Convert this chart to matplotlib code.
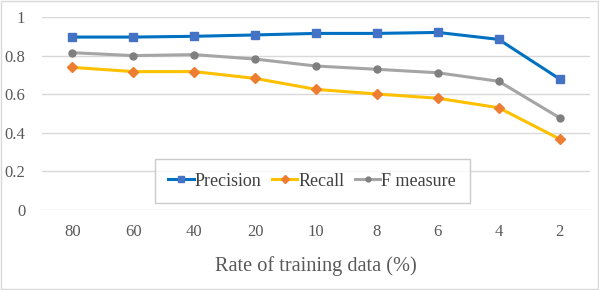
import numpy as np
import matplotlib.pyplot as plt

plt.rcParams['font.family'] = ['Liberation Serif', 'DejaVu Serif']

# Data
rates = ['80', '60', '40', '20', '10', '8', '6', '4', '2']
precision = [0.896, 0.896, 0.900, 0.907, 0.915, 0.915, 0.920, 0.884, 0.679]
recall = [0.739, 0.717, 0.717, 0.682, 0.625, 0.601, 0.579, 0.530, 0.368]
f_measure = [0.815, 0.800, 0.805, 0.782, 0.746, 0.729, 0.711, 0.667, 0.478]

fig = plt.figure(figsize=(5.99, 2.90), dpi=100)
ax = fig.add_axes([42/599, 80/290, 548/599, 193/290])

x = np.arange(len(rates))
ax.plot(x, precision, color='#0070C0', lw=2.2, marker='s', ms=6,
        mfc='#4472C4', mec='#4472C4', label='Precision')
ax.plot(x, recall, color='#FFC000', lw=2.2, marker='D', ms=5.5,
        mfc='#ED7D31', mec='#ED7D31', label='Recall')
ax.plot(x, f_measure, color='#A5A5A5', lw=2.2, marker='o', ms=5,
        mfc='#7F7F7F', mec='#7F7F7F', label='F measure')

ax.set_xlim(-0.5, len(rates) - 0.5)
ax.set_ylim(0, 1)
ax.set_xticks(x)
ax.set_xticklabels(rates)
ax.set_yticks([0, 0.2, 0.4, 0.6, 0.8, 1])
ax.set_yticklabels(['0', '0.2', '0.4', '0.6', '0.8', '1'])
ax.tick_params(length=0, labelsize=12, colors='#595959', pad=10)
ax.tick_params(axis='y', pad=12)
ax.grid(axis='y', color='#D9D9D9', lw=1)
ax.set_axisbelow(True)
for s in ax.spines.values():
    s.set_visible(False)

ax.set_xlabel('Rate of training data (%)', fontsize=14.6, color='#595959', labelpad=12)

leg = ax.legend(loc='lower center', bbox_to_anchor=(0.493, 0.036), ncol=3,
                fontsize=13, frameon=True, fancybox=False, edgecolor='#BFBFBF',
                handlelength=1.4, handletextpad=0.05, columnspacing=0.6,
                borderpad=0.75, borderaxespad=0, markerscale=0.7)
leg.get_frame().set_linewidth(1.0)
for t in leg.get_texts():
    t.set_color('#404040')

fig.patches.append(plt.Rectangle((0.002, 0.003), 0.996, 0.994, transform=fig.transFigure,
                                 fill=False, edgecolor='#D9D9D9', lw=1))

fig.savefig('out.png', dpi=100)
